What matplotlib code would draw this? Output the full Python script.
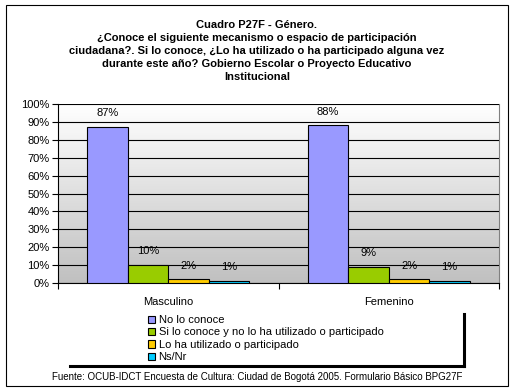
import numpy as np
import matplotlib.pyplot as plt
from matplotlib.lines import Line2D
from matplotlib.patches import Rectangle
from matplotlib.ticker import PercentFormatter

plt.rcParams["font.family"] = ["Liberation Sans", "DejaVu Sans"]

categories = ["Masculino", "Femenino"]
series_names = [
    "No lo conoce",
    "Si lo conoce y no lo ha utilizado o participado",
    "Lo ha utilizado o participado",
    "Ns/Nr",
]
no_conoce = [87, 88]
conoce_no_usa = [10, 9]
ha_utilizado = [2, 2]
ns_nr = [1, 1]
series_values = [no_conoce, conoce_no_usa, ha_utilizado, ns_nr]
colors = ["#9999FF", "#99CC00", "#FFCC00", "#00CCFF"]

title = ("Cuadro P27F - Género.\n"
         "¿Conoce el siguiente mecanismo o espacio de participación\n"
         "ciudadana?. Si lo conoce, ¿Lo ha utilizado o ha participado alguna vez\n"
         "durante este año? Gobierno Escolar o Proyecto Educativo\n"
         "Institucional")
source = "Fuente: OCUB-IDCT Encuesta de Cultura: Ciudad de Bogotá 2005. Formulario Básico BPG27F"

W, H = 515, 391
fig = plt.figure(figsize=(W / 100, H / 100), dpi=100)

# outer frame
fig.patches.append(Rectangle((6 / W, 1 - 386 / H), 502 / W, 381 / H, transform=fig.transFigure,
                             fill=False, edgecolor="black", linewidth=0.8))

fig.text(257 / W, 1 - 51 / H, title, ha="center", va="center", fontsize=8,
         fontweight="bold", linespacing=1.38)

ax = fig.add_axes([58 / W, 1 - 283 / H, 441 / W, 179 / H])

# gradient background
grad = np.linspace(1, 0, 256).reshape(-1, 1)
ax.imshow(grad, cmap=plt.matplotlib.colors.LinearSegmentedColormap.from_list(
    "g", ["#C0C0C0", "#FFFFFF"]), aspect="auto", extent=[0, 1, 0, 1],
    transform=ax.transAxes, zorder=0, vmin=0, vmax=1)

x = np.arange(len(categories))
width = 0.184
bars = []
for i, (vals, col, name) in enumerate(zip(series_values, colors, series_names)):
    pos = x + (i - 1.5) * width
    b = ax.bar(pos, vals, width, color=col, edgecolor="black", linewidth=0.8,
               label=name, zorder=3)
    bars.append(b)
    for px, v in zip(pos, vals):
        ax.annotate(f"{v}%", (px, v), xytext=(0, 10), textcoords="offset points",
                    ha="center", va="center", fontsize=8, zorder=4)

ax.set_xlim(-0.5, 1.5)
ax.set_ylim(0, 100)
ax.set_yticks(np.arange(0, 101, 10))
ax.yaxis.set_major_formatter(PercentFormatter(decimals=0))
ax.yaxis.grid(True, color="black", linewidth=0.8, zorder=1)
ax.set_axisbelow(False)

ax.set_xticks([-0.5, 0.5, 1.5])
ax.set_xticklabels([])
ax.set_xticks(x, minor=True)
ax.set_xticklabels(categories, minor=True, fontsize=8)
ax.tick_params(axis="x", which="minor", length=0, pad=10)
ax.tick_params(axis="x", which="major", length=4, direction="out")
ax.tick_params(axis="y", length=4, labelsize=8, pad=2)

ax.spines["top"].set_visible(False)
ax.spines["right"].set_color("#808080")
ax.spines["left"].set_linewidth(0.8)
ax.spines["bottom"].set_linewidth(0.8)

# legend
fig.legend(handles=bars, labels=series_names, loc="upper left",
           bbox_to_anchor=(148 / W, 1 - 315 / H), frameon=False, fontsize=8,
           labelspacing=0.22, handlelength=0.6, handleheight=0.6,
           handletextpad=0.35, borderpad=0, borderaxespad=0)
fig.lines.append(Line2D([70 / W, 464 / W], [1 - 366 / H, 1 - 366 / H],
                        transform=fig.transFigure, color="black", linewidth=2.2))
fig.lines.append(Line2D([464 / W, 464 / W], [1 - 314 / H, 1 - 366 / H],
                        transform=fig.transFigure, color="black", linewidth=2.2))

fig.text(257 / W, 1 - 377 / H, source, ha="center", va="center", fontsize=7)

fig.savefig("out.png", dpi=100)
